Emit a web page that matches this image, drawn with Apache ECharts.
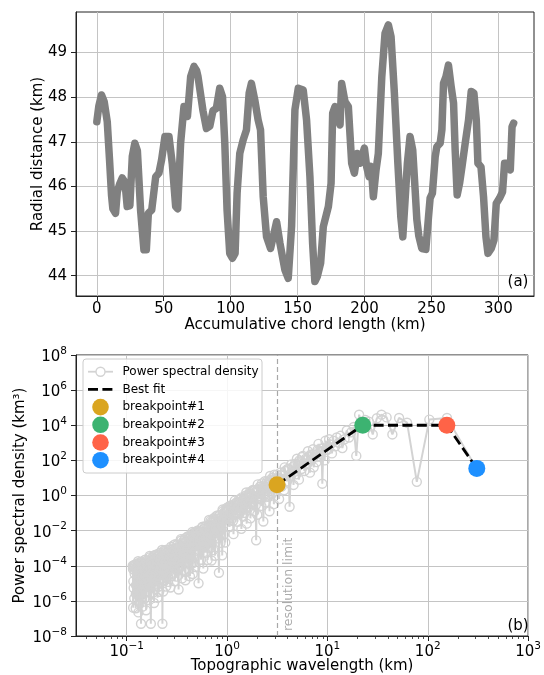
<!DOCTYPE html>
<html><head><meta charset="utf-8">
<script src="https://cdn.jsdelivr.net/npm/echarts@6/dist/echarts.min.js"></script>
<style>html,body{margin:0;padding:0;background:#fff}#c{width:544px;height:675px}</style>
</head><body><div id="c"></div><script>
// ---- Panel (a): topographic profile ----
const chordKm = [0,1.5,3.5,5.5,7.8,9.5,11,12,14,15.3,17,19,21,22.7,24.7,26.5,28.4,30.3,32.7,35.2,37,38.5,41,44,46.4,48.4,50.9,53.9,56.4,58.9,60.4,62.6,65.1,67.7,70.1,72.6,74.5,75.6,79.3,81.9,84.4,86.8,89.3,91.8,93.9,95.6,97.3,99.3,101.3,103.3,104.8,106.8,109.3,111.8,113.8,115.5,118,120.5,122.3,124.3,126.8,129.8,134.3,136.8,140.5,143,145.5,148,150.5,154.2,156.7,159.2,161.2,162.9,164.7,167.2,169.2,173,175,176.2,177.9,180.4,181.7,182.9,185.4,187.9,190.4,192.4,194.6,196.6,199.9,201.6,203.4,205,206.6,208.6,210.3,212.9,215.3,217.8,219.8,222.3,224.9,227.1,228.6,230.3,232,234,236,237.8,239.1,240.5,242.8,245.8,247.8,249,250.7,252.8,254,256.5,257.8,259,260.8,262.7,264.7,266.5,267.7,269.2,271,272.8,275.2,277.7,279.7,281.7,283.5,284.7,287,288.9,290.7,292.2,294.7,296.7,298.4,300.9,303.1,304.6,306.5,308.9,310.2,311.4];
const radialKm = [47.45,47.8,48.05,47.9,47.45,46.6,45.8,45.5,45.4,45.88,46.05,46.19,46.1,45.55,45.57,46.67,46.97,46.8,45.47,44.58,44.58,45.4,45.47,46.22,46.3,46.6,47.12,47.12,46.5,45.55,45.5,46.97,47.79,47.57,48.46,48.69,48.6,48.46,47.7,47.3,47.35,47.7,47.75,48.2,48.01,46.97,45.47,44.5,44.39,44.5,45.85,46.74,47.04,47.27,48.09,48.31,47.94,47.49,47.27,45.77,44.87,44.61,45.21,44.73,44.13,43.94,45.1,47.72,48.2,48.16,47.49,46.22,44.73,43.87,43.98,44.28,45.1,45.55,46.07,47.64,47.79,47.49,47.38,48.31,47.9,47.79,46.52,46.3,46.74,46.52,46.86,46.44,46.22,46.45,45.77,46.37,46.74,48.46,49.43,49.62,49.36,48.09,46.52,45.32,44.87,45.7,46.52,47.12,46.82,45.92,45.25,44.9,44.61,44.59,45.32,45.74,45.85,46.67,46.89,46.97,47.27,48.31,48.46,48.72,48.24,47.87,46.82,45.81,46.07,46.44,46.97,47.49,48.13,48.09,47.49,46.52,46.44,45.77,44.87,44.5,44.61,44.8,45.62,45.74,45.88,46.52,46.52,46.37,47.34,47.42];
const topXTicks = [0,50,100,150,200,250,300];
const topYTicks = [44,45,46,47,48,49];

// ---- Panel (b): power spectral density [wavelength km, PSD km^3] ----
const psdPoints = [
[311,30],[155.5,2.6e4],[103.7,2.1e4],[77.8,6],[62.2,1.4e4],[51.8,2.6e4],[44.4,3e3],[38.9,2.8e4],[34.6,4e4],[31.1,2.5e4],[28.3,3e3],[25.9,1.6e4],[23.9,2e4],[22.2,1e4],[20.7,4e4],[19.4,180],[18.3,8e3],[17.3,4e3],[16.4,2e3],[15.6,5e3],[14.8,1.6e3],[14.1,500],[13.5,2.5e3],[13.0,1e3],[12.4,2e3],[12.0,630],[11.5,1.3e3],[11.1,250],[10.7,800],[10.4,1.6e3],[10.0,400],
[9.7,400],[9.4,100],[9.1,500],[8.9,4.7],[8.6,320],[8.3,160],[8.0,400],[7.8,80],[7.5,250],[7.3,40],[7.1,200],[6.9,100],[6.7,20],[6.5,160],[6.3,63],[6.1,126],[5.9,25],[5.7,180],[5.5,32],[5.35,80],[5.2,8],[5.05,50],[4.9,16],[4.75,63],[4.6,4],[4.45,40],[4.3,12.6],[4.2,0.23],[4.1,32],[3.95,6.3],[3.8,25],[3.7,2],[3.6,16],[3.5,3.2],[3.4,20],[3.3,0.63],[3.2,10],[3.1,2.5],
[9.55,1.3e3],[8.75,470],[8.15,870],[7.65,210],[7.2,430],[6.8,210],[6.4,330],[6.0,100],[5.6,155],[5.27,98],[4.97,123],[4.67,48],[4.37,58],[4.02,33],[3.75,40],[3.45,14],[3.15,15.5],
[3.0,8],[2.93,0.32],[2.86,5],[2.79,1.26],[2.72,8],[2.65,0.126],[2.59,4],[2.53,1],[2.47,5],[2.41,0.4],[2.36,3.2],[2.30,0.033],[2.25,2.5],[2.20,0.25],[2.15,3.2],[2.10,0.63],[2.05,2],[2.00,0.08],[1.95,0.0028],[1.91,1.6],[1.87,0.126],[1.83,2],[1.79,0.32],[1.75,1],[1.71,0.05],[1.67,1.26],[1.63,0.2],[1.60,0.8],[1.57,0.025],[1.54,1],[1.51,0.16],[1.48,0.63],[1.45,0.063],[1.42,0.5],[1.39,0.0126],[1.36,0.63],[1.33,0.1],[1.30,0.4],[1.27,0.032],[1.24,0.4],[1.21,0.08],[1.18,0.32],[1.16,0.0063],[1.13,0.25],[1.10,0.04],[1.08,0.25],[1.06,0.016],[1.04,0.2],[1.02,0.05],[1.00,0.16],
[2.965,15.5],[2.895,7.1],[2.825,10],[2.755,2.9],[2.685,13],[2.62,5.9],[2.56,0.85],[2.50,6.2],[2.44,2.8],[2.385,6.5],[2.33,1.17],[2.275,3.4],[2.225,4.9],[2.175,2.2],[2.125,3.2],[2.075,0.93],[2.025,4.3],[1.975,1.9],[1.93,0.28],[1.89,2.0],[1.85,0.93],[1.81,2.1],[1.77,0.39],[1.73,1.12],[1.69,1.6],[1.65,0.74],[1.615,1.07],[1.585,0.32],[1.555,1.48],[1.525,0.68],[1.495,0.1],[1.465,0.72],[1.435,0.34],[1.405,0.78],[1.375,0.141],[1.345,0.41],[1.315,0.6],[1.285,0.28],[1.255,0.39],[1.225,0.112],[1.195,0.51],[1.17,0.23],[1.145,0.035],[1.115,0.25],[1.09,0.112],[1.07,0.26],[1.05,0.048],[1.03,0.141],[1.01,0.21],
[0.98,0.145],[0.96,0.0021],[0.945,0.098],[0.93,0.0058],[0.91,0.13],[0.895,0.00039],[0.88,0.056],[0.86,0.002],[0.845,0.074],[0.83,4e-5],[0.81,0.049],[0.795,0.0036],[0.78,0.066],[0.76,0.00037],[0.745,0.043],[0.73,0.00078],[0.715,0.028],[0.70,0.0002],[0.685,0.037],[0.67,0.00105],[0.655,0.015],[0.64,0.00021],[0.625,0.019],[0.61,0.00055],[0.595,0.0126],[0.58,6.9e-5],[0.565,0.0155],[0.55,0.00022],[0.535,0.0078],[0.52,1e-5],[0.505,0.0079],
[0.99,0.19],[0.97,0.069],[0.9525,0.129],[0.9375,0.024],[0.92,0.087],[0.9025,0.158],[0.8875,0.03],[0.87,0.054],[0.8525,0.0062],[0.8375,0.072],[0.82,0.026],[0.8025,0.074],[0.7875,0.0087],[0.77,0.039],[0.7525,0.022],[0.7375,0.051],[0.7225,0.0186],[0.7075,0.034],[0.6925,0.0062],[0.6775,0.022],[0.6625,0.04],[0.6475,0.0072],[0.6325,0.0129],[0.6175,0.0015],[0.6025,0.0166],[0.5875,0.0059],[0.5725,0.0166],[0.5575,0.0019],[0.5425,0.0083],[0.5275,0.0046],[0.5125,0.0102],[0.4975,0.0037],
[0.49,0.0071],[0.483,8.3e-5],[0.476,0.005],[0.469,0.0003],[0.462,0.0072],[0.455,3.4e-5],[0.448,0.0041],[0.441,0.000123],[0.434,0.0046],[0.427,2.5e-5],[0.42,0.0026],[0.413,6.2e-5],[0.406,0.0046],[0.399,0.000138],[0.392,0.0026],[0.385,1.5e-5],[0.378,0.0029],[0.371,5.2e-5],[0.364,0.002],[0.357,1.9e-5],[0.35,0.00275],[0.343,0.0001],[0.336,0.0015],[0.329,4.4e-6],[0.322,0.0016],[0.315,2.4e-5],[0.308,0.00089],[0.301,1.3e-5],[0.294,0.0015],[0.287,3.5e-5],[0.28,0.00079],[0.273,5.8e-6],[0.266,0.00083],[0.259,1.2e-5],[0.252,0.00055],
[0.4865,0.0087],[0.4795,0.0032],[0.4725,0.0062],[0.4655,0.0012],[0.4585,0.0044],[0.4515,0.0083],[0.4445,0.0016],[0.4375,0.003],[0.4305,0.00035],[0.4235,0.0043],[0.4165,0.0016],[0.4095,0.0047],[0.4025,0.00056],[0.3955,0.0026],[0.3885,0.00155],[0.3815,0.0037],[0.3745,0.0014],[0.3675,0.0026],[0.3605,0.00048],[0.3535,0.0018],[0.3465,0.0033],[0.3395,0.00062],[0.3325,0.00115],[0.3255,0.000135],[0.3185,0.00155],[0.3115,0.00058],[0.3045,0.0017],[0.2975,0.000195],[0.2905,0.00091],[0.2835,0.00052],[0.2765,0.0012],[0.2695,0.00044],[0.2625,0.00079],[0.2555,0.000145],[0.2495,0.00052],
[0.4935,7.2e-4],[0.4745,2.5e-3],[0.4555,1.4e-4],[0.4365,3e-3],[0.4175,2.5e-4],[0.3985,8.5e-4],[0.3795,4.6e-5],[0.3625,1.2e-3],[0.3445,2.6e-4],[0.3265,6.8e-5],[0.3095,1.4e-4],[0.2935,4.7e-4],[0.2785,2.5e-5],[0.2645,5.1e-4],[0.2535,4.5e-5],
[0.247,6.5e-6],[0.243,0.00062],[0.239,1.5e-5],[0.235,0.00071],[0.231,3.4e-6],[0.227,5e-8],[0.223,0.00039],[0.219,1.8e-5],[0.215,0.00055],[0.211,3.3e-6],[0.207,0.00032],[0.203,1.5e-6],[0.199,0.00035],[0.195,6.8e-6],[0.191,0.0004],[0.187,7.6e-7],[0.184,0.00023],[0.181,2.8e-6],[0.178,0.00026],[0.174,5e-8],[0.171,0.0003],[0.168,1.1e-6],[0.165,0.00017],[0.162,3.2e-6],[0.159,0.00019],[0.156,2.9e-7],[0.153,0.00022],[0.15,1.3e-6],[0.147,0.000123],[0.144,4.7e-7],[0.141,0.000138],[0.139,5e-8],[0.137,0.00016],[0.135,7.8e-7],[0.133,0.000117],[0.131,2.2e-7],[0.129,0.000138],[0.127,1e-6],[0.125,7.9e-5],[0.123,3.8e-7],[0.121,0.000115],[0.119,1.4e-6],[0.117,8.3e-5],[0.116,4.1e-7],[0.115,1e-4],
[0.245,7.9e-4],[0.241,3e-4],[0.237,5.8e-4],[0.233,1.1e-4],[0.229,4.2e-4],[0.225,7.9e-4],[0.221,1.5e-4],[0.217,2.8e-4],[0.213,3.4e-5],[0.209,4.1e-4],[0.205,1.5e-4],[0.201,4.6e-4],[0.197,5.5e-5],[0.193,2.6e-4],[0.189,1.5e-4],[0.1855,3.7e-4],[0.1825,1.4e-4],[0.1795,2.7e-4],[0.176,5.1e-5],[0.1725,1.9e-4],[0.1695,3.6e-4],[0.1665,6.9e-5],[0.1635,1.3e-4],[0.1605,1.6e-5],[0.1575,1.9e-4],[0.1545,7.1e-5],[0.1515,2.1e-4],[0.1485,2.5e-5],[0.1455,1.2e-4],[0.1425,7.2e-5],[0.140,1.7e-4],[0.138,6.6e-5],[0.136,1.26e-4],[0.134,2.4e-5],[0.132,9.3e-5],[0.130,1.8e-4],[0.128,3.4e-5],[0.126,6.5e-5],[0.124,7.8e-6],[0.122,9.3e-5],[0.120,3.5e-5],[0.118,1.07e-4],[0.1165,1.3e-5],[0.1155,6.5e-5],
[0.2445,6.3e-5],[0.2385,2.3e-4],[0.2325,1.4e-5],[0.2265,3.2e-4],[0.2205,3e-5],[0.2145,1.1e-4],[0.2085,6.5e-6],[0.2025,1.9e-4],[0.1965,4.4e-5],[0.1905,1.26e-5],[0.1845,2.9e-5],[0.1785,1.05e-4],[0.1735,6.2e-6],[0.1675,1.4e-4],[0.1615,1.26e-5],[0.1555,4.6e-5],[0.1495,2.6e-6],[0.1435,7.2e-5],[0.1395,1.7e-5],[0.1355,5e-6],[0.1315,1.15e-5],[0.1275,4.2e-5],[0.1235,2.5e-6],[0.1195,5.6e-5],[0.1175,5.4e-6]
];
const breakpointNames = ['breakpoint#1','breakpoint#2','breakpoint#3','breakpoint#4'];
const breakpointWavelength = [3.15, 22.5, 155, 308];
const breakpointPSD = [4.1, 1.0e4, 1.0e4, 35];
const resolutionLimitKm = 3.15;
const bottomXTicks = [0.1,1,10,100,1000];
const bottomXMinorTicks = [0.04,0.05,0.06,0.07,0.08,0.09,0.2,0.3,0.4,0.5,0.6,0.7,0.8,0.9,2,3,4,5,6,7,8,9,20,30,40,50,60,70,80,90,200,300,400,500,600,700,800,900];
const bottomYTicks = [1e-8,1e-6,1e-4,1e-2,1,1e2,1e4,1e6,1e8];

// periodogram is drawn in order of decreasing wavelength
const psdSorted = psdPoints.slice().sort((a, b) => b[0] - a[0]);

const FONT = 'DejaVu Sans';
const FS = 15;
const BPCOLORS = ['#DAA520','#3CB371','#FF6347','#1E90FF'];
const FRAME = '#222';
const GRIDC = '#c4c4c4';

function pow10Label(v){
  const e = Math.log10(v);
  const r = Math.round(e);
  if (Math.abs(e - r) > 1e-6) return '';
  return '{b|10}{s|' + (r < 0 ? '\u2212' : '') + Math.abs(r) + '}';
}
const richPow = {
  b: {fontSize: FS, fontFamily: FONT, color: '#000', lineHeight: 19, verticalAlign: 'bottom'},
  s: {fontSize: 10.5, fontFamily: FONT, color: '#000', lineHeight: 19, verticalAlign: 'top'}
};

const chart = echarts.init(document.getElementById('c'), null, {renderer: 'canvas'});
const axisCommon = {
  axisLine: {show: true, onZero: false, lineStyle: {color: FRAME, width: 1}},
  nameTextStyle: {fontSize: FS, fontFamily: FONT, color: '#000'},
  nameLocation: 'middle',
  nameMoveOverlap: false
};
const option = {
  animation: false,
  backgroundColor: '#fff',
  textStyle: {fontFamily: FONT},
  grid: [
    {left: 76, top: 12, width: 458, height: 284, show: true, borderColor: FRAME, borderWidth: 1, backgroundColor: 'transparent'},
    {left: 76, top: 355, width: 458, height: 284, show: true, borderColor: FRAME, borderWidth: 1, backgroundColor: 'transparent'}
  ],
  xAxis: [
    Object.assign({}, axisCommon, {
      gridIndex: 0, type: 'value', min: -15.55, max: 326.6,
      name: 'Accumulative chord length (km)', nameGap: 22,
      axisTick: {show: true, length: 5, inside: false, customValues: topXTicks, lineStyle: {color: FRAME}},
      axisLabel: {customValues: topXTicks, fontSize: FS, fontFamily: FONT, color: '#000', margin: 6},
      splitLine: {show: true, lineStyle: {color: GRIDC, width: 1}}
    }),
    Object.assign({}, axisCommon, {
      gridIndex: 1, type: 'log', logBase: 10, min: Math.pow(10, -1.505), max: 1000,
      name: 'Topographic wavelength (km)', nameGap: 23,
      axisTick: {show: true, length: 5, customValues: bottomXTicks, lineStyle: {color: FRAME}},
      axisLabel: {customValues: bottomXTicks, formatter: pow10Label, rich: richPow, margin: 5},
      splitLine: {show: true, lineStyle: {color: GRIDC, width: 1}}
    }),
    {
      gridIndex: 1, type: 'log', logBase: 10, min: Math.pow(10, -1.505), max: 1000, position: 'bottom',
      axisLine: {show: false}, axisLabel: {show: false}, splitLine: {show: false},
      axisTick: {show: true, length: 3, customValues: bottomXMinorTicks, lineStyle: {color: FRAME, width: 0.8}}
    }
  ],
  yAxis: [
    Object.assign({}, axisCommon, {
      gridIndex: 0, type: 'value', min: 43.545, max: 49.91,
      name: 'Radial distance (km)', nameGap: 30,
      axisTick: {show: true, length: 5, customValues: topYTicks, lineStyle: {color: FRAME}},
      axisLabel: {customValues: topYTicks, fontSize: FS, fontFamily: FONT, color: '#000', margin: 9},
      splitLine: {show: true, lineStyle: {color: GRIDC, width: 1}}
    }),
    Object.assign({}, axisCommon, {
      gridIndex: 1, type: 'log', logBase: 10, min: 1e-8, max: 1e8,
      name: 'Power spectral density (km\u00b3)', nameGap: 48,
      axisTick: {show: true, length: 5, customValues: bottomYTicks, lineStyle: {color: FRAME}},
      axisLabel: {customValues: bottomYTicks, formatter: pow10Label, rich: richPow, margin: 9},
      splitLine: {show: true, lineStyle: {color: GRIDC, width: 1}}
    })
  ],
  series: [
    {
      type: 'line', xAxisIndex: 0, yAxisIndex: 0, z: 3,
      data: chordKm.map((x, i) => [x, radialKm[i]]),
      showSymbol: false, symbol: 'none',
      lineStyle: {color: '#808080', width: 7.5, cap: 'round', join: 'round'}
    },
    {
      type: 'line', name: 'Power spectral density', xAxisIndex: 1, yAxisIndex: 1, z: 3,
      data: psdSorted, symbol: 'circle', symbolSize: 9, showAllSymbol: true,
      itemStyle: {color: 'rgba(255,255,255,0)', borderColor: '#d3d3d3', borderWidth: 1.4},
      lineStyle: {color: '#d3d3d3', width: 2},
      markLine: {
        silent: true, symbol: ['none', 'none'], animation: false,
        lineStyle: {color: '#a8a8a8', width: 1.2, type: [5, 3]},
        label: {show: false},
        data: [{xAxis: resolutionLimitKm}]
      }
    },
    {
      type: 'line', name: 'Best fit', xAxisIndex: 1, yAxisIndex: 1, z: 5,
      data: breakpointWavelength.map((x, i) => [x, breakpointPSD[i]]),
      symbol: 'none', lineStyle: {color: '#000', width: 2.8, type: [10, 4.4]}
    }
  ].concat(breakpointNames.map((n, i) => ({
    type: 'scatter', name: n, xAxisIndex: 1, yAxisIndex: 1, z: 6,
    data: [[breakpointWavelength[i], breakpointPSD[i]]],
    symbolSize: 17, itemStyle: {color: BPCOLORS[i], opacity: 1}
  })))
};
chart.setOption(option);

// annotations
const rl = chart.convertToPixel({xAxisIndex: 1, yAxisIndex: 1}, [resolutionLimitKm, 1e-8]);
const legendItems = [];
const LX = 83, LY = 359, rowH = 17.7, firstRow = 371.7;
legendItems.push({type: 'rect', shape: {x: LX, y: LY, width: 179, height: 114, r: 3},
  style: {fill: 'rgba(255,255,255,0.85)', stroke: '#cccccc', lineWidth: 1}, z: 100});
legendItems.push({type: 'line', shape: {x1: 88, y1: firstRow, x2: 113, y2: firstRow}, style: {stroke: '#d3d3d3', lineWidth: 1.8}, z: 101});
legendItems.push({type: 'circle', shape: {cx: 100.5, cy: firstRow, r: 4.5}, style: {fill: '#fff', stroke: '#d3d3d3', lineWidth: 1.4}, z: 102});
legendItems.push({type: 'line', shape: {x1: 88, y1: firstRow + rowH, x2: 113, y2: firstRow + rowH}, style: {stroke: '#000', lineWidth: 2.8, lineDash: [10, 4.4]}, z: 101});
const legendLabels = ['Power spectral density', 'Best fit'].concat(breakpointNames);
legendLabels.forEach((t, i) => {
  legendItems.push({type: 'text', x: 122.5, y: firstRow + i * rowH, z: 102,
    style: {text: t, fill: '#000', font: '12px "DejaVu Sans"', textAlign: 'left', verticalAlign: 'middle'}});
  if (i >= 2) {
    legendItems.push({type: 'circle', shape: {cx: 100.5, cy: firstRow + i * rowH, r: 8.3}, style: {fill: BPCOLORS[i - 2]}, z: 102});
  }
});
chart.setOption({
  graphic: [
    {type: 'text', x: rl[0] + 12, y: rl[1] - 5, rotation: Math.PI / 2, z: 50,
      style: {text: 'resolution limit', fill: '#ababab', font: '12.5px "DejaVu Sans"', textAlign: 'left', verticalAlign: 'middle'}},
    {type: 'text', x: 518, y: 282, z: 50, style: {text: '(a)', fill: '#000', font: '15px "DejaVu Sans"', textAlign: 'center', verticalAlign: 'middle'}},
    {type: 'text', x: 518, y: 626, z: 50, style: {text: '(b)', fill: '#000', font: '15px "DejaVu Sans"', textAlign: 'center', verticalAlign: 'middle'}},
    {type: 'group', children: legendItems}
  ]
});
</script></body></html>
